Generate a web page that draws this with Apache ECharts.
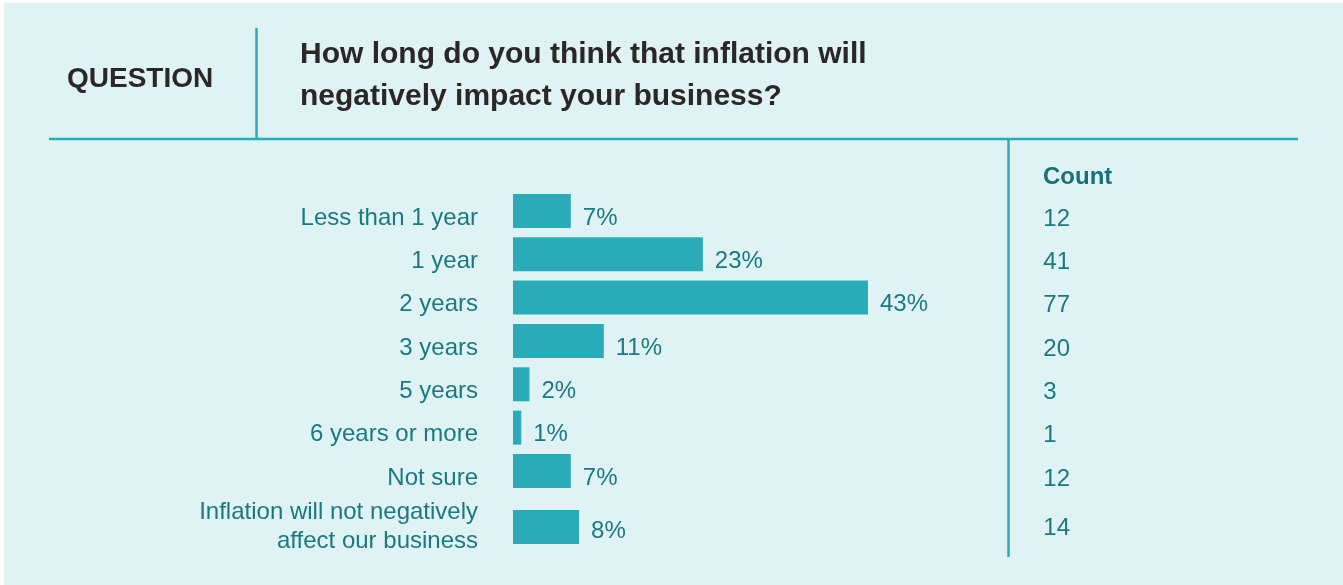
<!DOCTYPE html>
<html>
<head>
<meta charset="utf-8">
<title>Inflation impact duration</title>
<script src="https://cdn.jsdelivr.net/npm/echarts@6/dist/echarts.min.js"></script>
<style>
  html, body { margin: 0; padding: 0; background: #ffffff; }
  #chart { width: 1343px; height: 585px; }
</style>
</head>
<body>
<div id="chart"></div>
<script>
// Survey answers, share of respondents (%) and respondent counts
const categories = [
  'Less than 1 year',
  '1 year',
  '2 years',
  '3 years',
  '5 years',
  '6 years or more',
  'Not sure',
  'Inflation will not negatively\naffect our business'
];
const percents = [7, 23, 43, 11, 2, 1, 7, 8];
const counts = [12, 41, 77, 20, 3, 1, 12, 14];

const questionLabel = 'QUESTION';
const questionText = 'How long do you think that inflation will\nnegatively impact your business?';
const countHeader = 'Count';

const FONT = '"Liberation Sans", Arial, sans-serif';
const TEAL = '#2aabb8';
const TEXT_TEAL = '#1b7981';
const DARK = '#2b2727';
const BG = '#dff2f4';

// The first seven answers share one grid; the two-line answer sits in its own row below
const split = 7;

const chart = echarts.init(document.getElementById('chart'), null, { renderer: 'canvas' });

function catAxis(gridIndex, data, right, labelExtra) {
  return {
    gridIndex: gridIndex,
    type: 'category',
    data: data,
    inverse: true,
    position: right ? 'right' : 'left',
    axisLine: { show: false },
    axisTick: { show: false },
    splitLine: { show: false },
    axisLabel: Object.assign({
      margin: 35,
      color: TEXT_TEAL,
      fontFamily: FONT,
      fontSize: 24
    }, labelExtra || {})
  };
}

function barSeries(idx, data, labelOffset) {
  return {
    type: 'bar',
    xAxisIndex: idx,
    yAxisIndex: idx * 2,
    data: data,
    barWidth: 34,
    itemStyle: { color: TEAL },
    label: {
      show: true,
      position: 'right',
      distance: 12,
      offset: [0, labelOffset],
      formatter: '{c}%',
      color: TEXT_TEAL,
      fontFamily: FONT,
      fontSize: 24
    },
    emphasis: { disabled: true },
    animation: false
  };
}

// labels of the single-line rows sit a little below the bar centres
const lowered = { verticalAlign: 'top', lineHeight: 14 };

const option = {
  backgroundColor: BG,
  animation: false,
  grid: [
    { left: 513, top: 189.3, width: 495.3, height: 303.3 },
    { left: 513, top: 505.3, width: 495.3, height: 43.3 }
  ],
  xAxis: [
    { gridIndex: 0, type: 'value', min: 0, max: 60, show: false },
    { gridIndex: 1, type: 'value', min: 0, max: 60, show: false }
  ],
  yAxis: [
    catAxis(0, categories.slice(0, split), false, lowered),
    catAxis(0, counts.slice(0, split).map(String), true, { verticalAlign: 'top', lineHeight: 16 }),
    catAxis(1, categories.slice(split), false, { lineHeight: 29, align: 'right' }),
    catAxis(1, counts.slice(split).map(String), true, { verticalAlign: 'top', lineHeight: 2 })
  ],
  series: [
    barSeries(0, percents.slice(0, split), 7),
    barSeries(1, percents.slice(split), 4)
  ],
  graphic: [
    // white margin along the top and left edges
    { type: 'rect', shape: { x: 0, y: 0, width: 1343, height: 3 }, style: { fill: '#ffffff' }, silent: true },
    { type: 'rect', shape: { x: 0, y: 0, width: 4, height: 585 }, style: { fill: '#ffffff' }, silent: true },
    // divider rules
    { type: 'line', shape: { x1: 49, y1: 139, x2: 1298, y2: 139 }, style: { stroke: TEAL, lineWidth: 2.5 }, silent: true },
    { type: 'line', shape: { x1: 256.5, y1: 28, x2: 256.5, y2: 140 }, style: { stroke: TEAL, lineWidth: 2.5 }, silent: true },
    { type: 'line', shape: { x1: 1008.5, y1: 139, x2: 1008.5, y2: 557 }, style: { stroke: TEAL, lineWidth: 2.5 }, silent: true },
    // header texts
    { type: 'text', x: 67, y: 79, silent: true,
      style: { text: questionLabel, fill: DARK, font: 'bold 28px ' + FONT, align: 'left', verticalAlign: 'middle' } },
    { type: 'text', x: 300, y: 76, silent: true,
      style: { text: questionText, fill: DARK, font: 'bold 30px ' + FONT, lineHeight: 42, align: 'left', verticalAlign: 'middle' } },
    { type: 'text', x: 1043, y: 177, silent: true,
      style: { text: countHeader, fill: '#16717a', font: 'bold 24px ' + FONT, align: 'left', verticalAlign: 'middle' } }
  ]
};

chart.setOption(option);
</script>
</body>
</html>
